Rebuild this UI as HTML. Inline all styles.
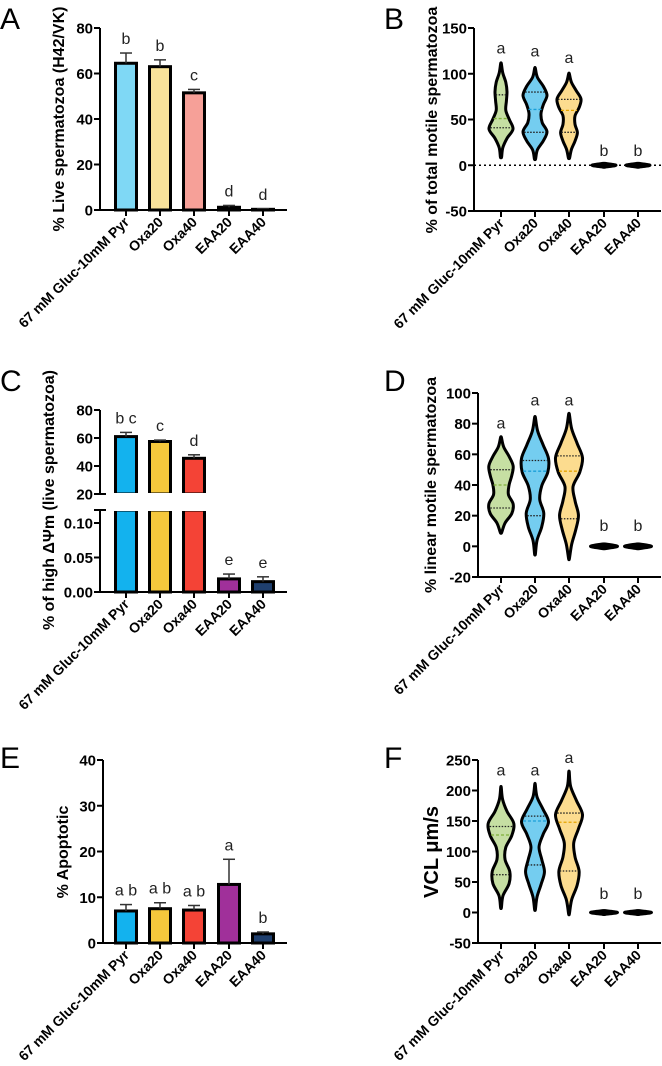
<!DOCTYPE html>
<html><head><meta charset="utf-8"><style>
html,body{margin:0;padding:0;background:#fff;}
svg{display:block;font-family:"Liberation Sans",Arial,sans-serif;}
</style></head><body>
<svg id="fig" width="662" height="1066" viewBox="0 0 662 1066" xmlns="http://www.w3.org/2000/svg"></svg>
<script>
const categories = ["67 mM Gluc-10mM Pyr","Oxa20","Oxa40","EAA20","EAA40"];
// Panel A
const aMeans = [64.5, 63, 51.5, 1.2, 0.3];
const aErr = [69, 66, 53, 2, 0.5];
const aLetters = ["b","b","c","d","d"];
const aTicks = [0,20,40,60,80];
// Panel C
const cMeans = [61, 57.5, 45.5, 0.019, 0.015];
const cErr = [64, 58.5, 48, 0.026, 0.022];
const cLetters = ["b c","c","d","e","e"];
const cTicksTop = [20,40,60,80];
const cTicksBot = ["0.00","0.05","0.10"];
// Panel E
const eMeans = [7, 7.5, 7.2, 12.8, 2];
const eErr = [8.4, 8.8, 8.2, 18.3, 2.4];
const eLetters = ["a b","a b","a b","a","b"];
const eTicks = [0,10,20,30,40];
// Panel B violins: [min, max], densities (evenly spaced), quartiles
const bRange = [[9,111],[7,106],[8,100],[-2,2],[-2,2]];
const bDens = [[0.05,0.15,0.5,1.0,0.7,0.4,0.45,0.5,0.4,0.15,0.03],[0.05,0.2,0.7,1.0,0.6,0.5,0.7,1.0,0.7,0.2,0.03],[0.05,0.2,0.5,0.7,0.5,0.5,0.85,1.0,0.6,0.2,0.03],[0.1,1,0.1],[0.1,1,0.1]];
const bQuart = [[41,51,77],[36,61,80],[36,60,72],null,null];
const bLetters = ["a","a","a","b","b"];
const bLetterVal = [122,119,112,10,10];
const bTicks = [-50,0,50,100,150];
// Panel D
const dRange = [[9,71],[-5,84],[-8,86],[-1.5,1.5],[-1.5,1.5]];
const dDens = [[0.05,0.3,0.8,0.9,0.55,0.6,0.8,0.9,0.6,0.2,0.03],[0.03,0.15,0.5,0.65,0.35,0.5,0.95,1.0,0.6,0.2,0.03],[0.03,0.2,0.5,0.7,0.45,0.3,0.8,1.0,0.6,0.2,0.03],[0.1,1,0.1],[0.1,1,0.1]];
const dQuart = [[25,40,50],[20,49,56],[18,49,59],null,null];
const dLetters = ["a","a","a","b","b"];
const dLetterVal = [77,92,92,10,10];
const dTicks = [-20,0,20,40,60,80,100];
// Panel F
const fRange = [[8,205],[5,210],[-2,230],[-3,3],[-3,3]];
const fDens = [[0.03,0.15,0.6,0.65,0.3,0.35,0.8,0.95,0.45,0.12,0.02],[0.03,0.15,0.45,0.7,0.5,0.3,0.6,1.0,0.6,0.15,0.02],[0.03,0.2,0.6,0.75,0.45,0.35,0.7,1.0,0.55,0.12,0.02],[0.1,1,0.1],[0.1,1,0.1]];
const fQuart = [[62,127,141],[78,150,158],[68,148,163],null,null];
const fLetters = ["a","a","a","b","b"];
const fLetterVal = [225,225,245,22,22];
const fTicks = [-50,0,50,100,150,200,250];

const NS="http://www.w3.org/2000/svg";
const svg=document.getElementById('fig');
function el(tag,attrs,parent,text){const e=document.createElementNS(NS,tag);for(const k in attrs)e.setAttribute(k,attrs[k]);if(text!==undefined)e.textContent=text;(parent||svg).appendChild(e);return e;}
function lin(d0,d1,p0,p1){return v=>p0+(v-d0)*(p1-p0)/(d1-d0);}

function panelLetter(g,t,x,y){const e=el('text',{x:x,y:y,'font-size':30,fill:'#000'},g,t);}
function yTitle(g,t,x,y,fs){const e=el('text',{x:x,y:y,'font-size':fs||16,'font-weight':'bold','text-anchor':'middle',transform:`rotate(-90 ${x} ${y})`},g,t);}
function xAxis(g,ax,x1,y,cx){
  const l=el('line',{x1:ax-3,x2:x1,y1:y,y2:y,stroke:'#000','stroke-width':2},g);
  categories.forEach((c,i)=>{
    el('line',{x1:cx[i],x2:cx[i],y1:y,y2:y+6,stroke:'#000','stroke-width':2},g);
    const tx=cx[i]+4,ty=y+13;
    const t=el('text',{x:tx,y:ty,'font-size':14,'font-weight':'bold','text-anchor':'end',transform:`rotate(-45 ${tx} ${ty})`},g,c);
    
  });
}
function yAxis(g,ax,ys,ticks,y0,y1,labels){
  const l=el('line',{x1:ax,x2:ax,y1:y0,y2:y1,stroke:'#000','stroke-width':2},g);
  ticks.forEach((v,i)=>{const y=ys(+v);el('line',{x1:ax-6,x2:ax,y1:y,y2:y,stroke:'#000','stroke-width':2},g);
    const t=el('text',{x:ax-7,y:y+5.5,'font-size':15,'font-weight':'bold','text-anchor':'end'},g,labels?labels[i]:String(v));});
}
function bar(g,cx,w,ytop,ybot,color,errY,name){
  const r=el('rect',{x:cx-w/2,y:ytop,width:w,height:Math.max(0,ybot-ytop),fill:color,stroke:'#000','stroke-width':3},g);
  if(errY!==null){el('line',{x1:cx,x2:cx,y1:ytop,y2:errY,stroke:'#333','stroke-width':1.5},g);el('line',{x1:cx-6,x2:cx+6,y1:errY,y2:errY,stroke:'#333','stroke-width':1.5},g);}
}
function letter(g,t,x,y){const e=el('text',{x:x,y:y,'font-size':16,'text-anchor':'middle',fill:'#222'},g,t);}

const cx=[126,160,194,229,263];
const vcx=[501,535,569,604,638];

// ---------- A ----------
{const g=el('g',{});
 const ys=lin(0,80,210,28);
 panelLetter(g,'A',0,29);
 yTitle(g,'% Live spermatozoa (H42/VK)',64,119);
 yAxis(g,100,ys,aTicks,ys(80),211);
 const cols=['#7fd8f5','#f9e39a','#f6a098','#7fd8f5','#7fd8f5'];
 aMeans.forEach((m,i)=>{bar(g,cx[i],21,ys(m),ys(0),cols[i],ys(aErr[i]),'bar-a-'+i);letter(g,aLetters[i],cx[i],ys(aErr[i])-9);});
 xAxis(g,100,287,210,cx);}

// ---------- C ----------
{const g=el('g',{});
 const ysT=lin(20,80,494,410), ysB=lin(0,0.1,592,523);
 panelLetter(g,'C',0,391);
 yTitle(g,'% of high \u0394\u03A8m (live spermatozoa)',54,500);
 const cols=['#13b2ee','#f6c83c','#f44336','#a0309a','#1f3f6e'];
 yAxis(g,100,ysT,cTicksTop,410,494);
 yAxis(g,100,v=>ysB(v),cTicksBot.map(Number),510,593,cTicksBot);
 el('line',{x1:94,x2:106,y1:494,y2:494,stroke:'#000','stroke-width':2},g);
 el('line',{x1:94,x2:106,y1:510,y2:510,stroke:'#000','stroke-width':2},g);
 cMeans.forEach((m,i)=>{
   if(m>1){
     bar(g,cx[i],21,ysT(m),494,cols[i],ysT(cErr[i]),'bar-c-'+i);
     const r=el('rect',{x:cx[i]-10.5,y:510,width:21,height:592-510,fill:cols[i],stroke:'#000','stroke-width':3},g);
     
     el('rect',{x:cx[i]-13,y:493,width:26,height:18,fill:'#fff'},g);
     letter(g,cLetters[i],cx[i],ysT(cErr[i])-9);
   } else {bar(g,cx[i],21,ysB(m),ysB(0),cols[i],ysB(cErr[i]),'bar-c-'+i);letter(g,cLetters[i],cx[i],ysB(cErr[i])-9);}
 });
 xAxis(g,100,287,592,cx);}

// ---------- E ----------
{const g=el('g',{});
 const ys=lin(0,40,943,760);
 panelLetter(g,'E',0,768);
 yTitle(g,'% Apoptotic',68,852);
 yAxis(g,103,ys,eTicks,760,944);
 const cols=['#13b2ee','#f6c83c','#f44336','#a0309a','#1f3f6e'];
 eMeans.forEach((m,i)=>{bar(g,cx[i],21,ys(m),ys(0),cols[i],ys(eErr[i]),'bar-e-'+i);letter(g,eLetters[i],cx[i],ys(eErr[i])-9);});
 xAxis(g,103,287,943,cx);}

// ---------- violins ----------
function smoothPath(pts){let d=`M${pts[0][0]},${pts[0][1]}`;for(let i=0;i<pts.length-1;i++){const p0=pts[Math.max(0,i-1)],p1=pts[i],p2=pts[i+1],p3=pts[Math.min(pts.length-1,i+2)];
 d+=` C${p1[0]+(p2[0]-p0[0])/6},${p1[1]+(p2[1]-p0[1])/6} ${p2[0]-(p3[0]-p1[0])/6},${p2[1]-(p3[1]-p1[1])/6} ${p2[0]},${p2[1]}`;}return d;}
function violinPanel(g,ys,ranges,dens,quarts,cxs,maxHW,fills,medCols){
 ranges.forEach((r,i)=>{
   const dd=dens[i],n=dd.length,lv=dd.map((_,k)=>r[0]+(r[1]-r[0])*k/(n-1));
   const hw=dd.map(v=>v*maxHW);
   const right=lv.map((v,k)=>[cxs[i]+hw[k],ys(v)]), left=lv.map((v,k)=>[cxs[i]-hw[k],ys(v)]).reverse();
   right.unshift([cxs[i],ys(r[0])]);right.push([cxs[i],ys(r[1])]);
   left.unshift([cxs[i],ys(r[1])]);left.push([cxs[i],ys(r[0])]);
   const d=smoothPath(right)+' '+smoothPath(left).replace(/^M[^ ]+/,'')+' Z';
   const p=el('path',{d:d,fill:fills[i],stroke:'#000','stroke-width':3,'stroke-linejoin':'round'},g);
   
   if(quarts[i]){quarts[i].forEach((q,j)=>{
     const t=(q-r[0])/(r[1]-r[0])*(n-1),k=Math.min(n-2,Math.floor(t)),w=(hw[k]+(hw[k+1]-hw[k])*(t-k))*0.92;
     const ql=el('line',{x1:cxs[i]-w,x2:cxs[i]+w,y1:ys(q),y2:ys(q),stroke:j===1?medCols[i]:'#222','stroke-width':1.3,'stroke-dasharray':j===1?'3,2':'1.5,1.5'},g);
     });}
 });
}
const vFill=['#c6dfa3','#74cdf0','#fcdc8f','#000','#000'];
const vMed=['#7fb13a','#1a9fd8','#e6a400','#000','#000'];

// ---------- B ----------
{const g=el('g',{});
 const ys=lin(-50,150,211,28);
 panelLetter(g,'B',384,29);
 yTitle(g,'% of total motile spermatozoa',437,120);
 yAxis(g,474,ys,bTicks,28,212);
 el('line',{x1:474,x2:661,y1:ys(0),y2:ys(0),stroke:'#000','stroke-width':1.5,'stroke-dasharray':'2,3'},g);
 violinPanel(g,ys,bRange,bDens,bQuart,vcx,12,vFill,vMed);
 bLetters.forEach((t,i)=>letter(g,t,vcx[i],ys(bLetterVal[i])));
 xAxis(g,474,661,211,vcx);}

// ---------- D ----------
{const g=el('g',{});
 const ys=lin(-20,100,577,393);
 panelLetter(g,'D',384,391);
 yTitle(g,'% linear motile spermatozoa',436,485);
 yAxis(g,478,ys,dTicks,393,578);
 violinPanel(g,ys,dRange,dDens,dQuart,vcx,13.5,vFill,vMed);
 dLetters.forEach((t,i)=>letter(g,t,vcx[i],ys(dLetterVal[i])));
 xAxis(g,478,661,577,vcx);}

// ---------- F ----------
{const g=el('g',{});
 const ys=lin(-50,250,943,760);
 panelLetter(g,'F',384,768);
 yTitle(g,'VCL \u03BCm/s',438,852,20);
 yAxis(g,478,ys,fTicks,760,944);
 violinPanel(g,ys,fRange,fDens,fQuart,vcx,13.5,vFill,vMed);
 fLetters.forEach((t,i)=>letter(g,t,vcx[i],ys(fLetterVal[i])));
 xAxis(g,478,661,943,vcx);}
</script>
</body></html>
